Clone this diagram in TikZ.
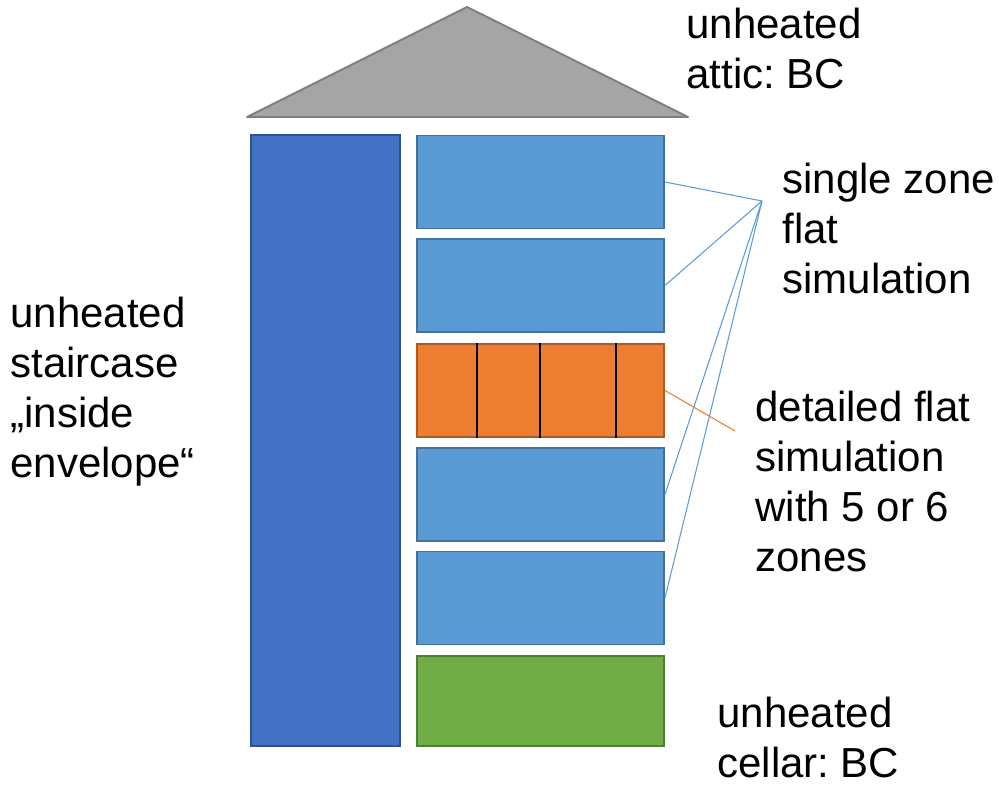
\documentclass[tikz,border=0pt]{standalone}
\usepackage{fontspec}
\setmainfont{Liberation Sans}
\usetikzlibrary{calc}
\frenchspacing

\definecolor{roofgray}{HTML}{A5A5A5}
\definecolor{roofline}{HTML}{7F7F7F}
\definecolor{stairblue}{HTML}{4472C4}
\definecolor{stairline}{HTML}{2F528F}
\definecolor{flatblue}{HTML}{5B9BD5}
\definecolor{flatline}{HTML}{41719C}
\definecolor{detorange}{HTML}{ED7D31}
\definecolor{detline}{HTML}{AE5A21}
\definecolor{cellgreen}{HTML}{70AD47}
\definecolor{cellline}{HTML}{507E32}

\begin{document}
\begin{tikzpicture}[x=0.02cm,y=-0.02cm,
	box/.style={shape=rectangle,draw,line width=1.1pt,minimum width=4.94cm,minimum height=1.86cm,inner sep=0pt},
	flatbox/.style={box,fill=flatblue,draw=flatline},
	lbl/.style={anchor=north west,align=left,inner sep=0pt,font=\fontsize{23.9pt}{28.45pt}\selectfont}]
	\useasboundingbox (0,0) rectangle (999,786);
	% roof
	\draw[fill=roofgray,draw=roofline,line width=1.1pt,line join=round] (247,117) -- (467,7) -- (688,117) -- cycle;
	% staircase and the storeys
	\draw (325.5,440.5) node (stair) [box,fill=stairblue,draw=stairline,minimum width=2.98cm,minimum height=12.22cm] {};
	\draw (540.5,182) node (flat1) [flatbox] {};
	\draw (540.5,285.5) node (flat2) [flatbox] {};
	\draw (540.5,390.5) node (flat3) [box,fill=detorange,draw=detline] {};
	\draw (540.5,494.5) node (flat4) [flatbox] {};
	\draw (540.5,598) node (flat5) [flatbox] {};
	\draw (540.5,701) node (cellar) [box,fill=cellgreen,draw=cellline,minimum height=1.8cm] {};
	\foreach \x in {477,540,616}
		\draw[line width=0.8pt] (flat3.north -| \x,0) -- (flat3.south -| \x,0);
	% labels
	\draw (686,8) node (atticlbl) [lbl] {unheated\\attic: BC};
	\draw (10,297) node (stairlbl) [lbl] {unheated\\staircase\\„inside\\envelope“};
	\draw (782,163) node (singlelbl) [lbl] {single zone\\flat\\simulation};
	\draw (755,391) node (detlbl) [lbl] {detailed flat\\simulation\\with 5 or 6\\zones};
	\draw (717,697) node (cellarlbl) [lbl] {unheated\\cellar: BC};
	% pointer lines
	\coordinate (sz) at (762,201);
	\coordinate (dz) at (735,431);
	\foreach \f in {flat1,flat2,flat4,flat5}
		\draw[flatblue,line width=0.6pt] (\f.east) -- (sz);
	\draw[detorange,line width=0.6pt] (flat3.east) -- (dz);
\end{tikzpicture}
\end{document}
